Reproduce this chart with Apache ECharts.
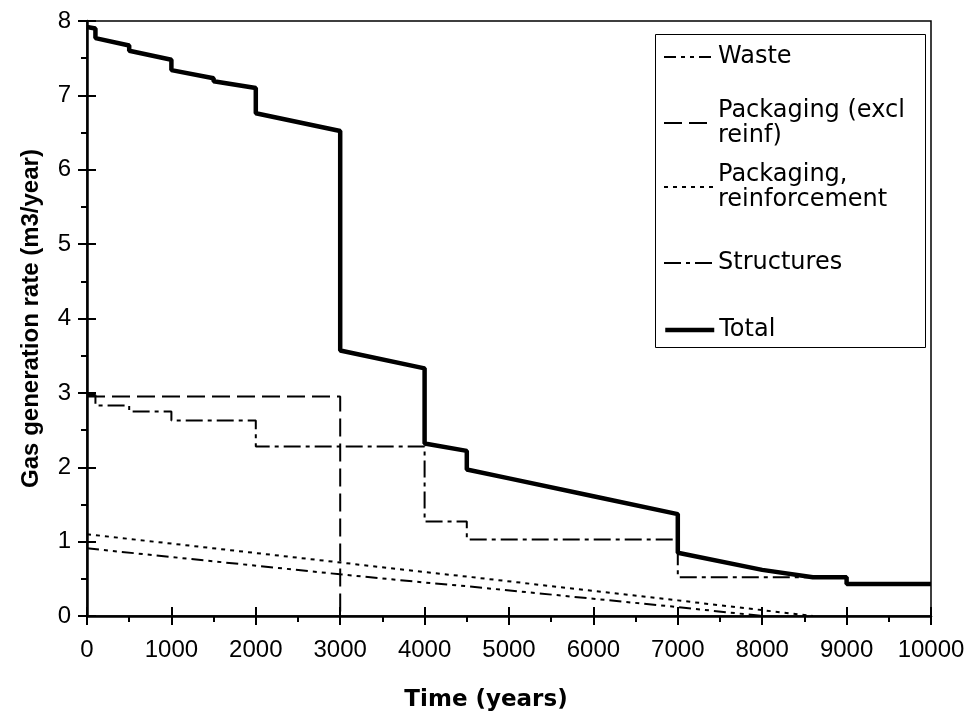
<!DOCTYPE html>
<html><head><meta charset="utf-8">
<script src="https://cdn.jsdelivr.net/npm/echarts@6/dist/echarts.min.js"></script>
<style>html,body{margin:0;padding:0;background:#fff}#c{width:972px;height:717px}</style>
</head><body><div id="c"></div>
<script>
// ---- data ----
const wasteTime = [0, 3000, 4000, 4500, 7000, 8000];
const wasteRate = [0.91, 0.56, 0.45, 0.40, 0.12, 0];
const packTime = [0, 3000, 3000];
const packRate = [2.95, 2.95, 0];
const reinfTime = [0, 3000, 4000, 4500, 7000, 8600];
const reinfRate = [1.10, 0.72, 0.59, 0.53, 0.21, 0];
const structTime = [0, 100, 500, 1000, 2000, 4000, 4500, 7000, 9000, 10000];
const structRate = [2.97, 2.83, 2.75, 2.63, 2.28, 1.27, 1.03, 0.52, 0.43, 0.43];
const totalTime = [0, 100, 100, 500, 500, 1000, 1000, 1500, 1500, 2000, 2000, 3000, 3000, 4000, 4000, 4500, 4500, 5000, 6000, 7000, 7000, 8000, 8600, 9000, 9000, 10000];
const totalRate = [7.92, 7.90, 7.77, 7.67, 7.60, 7.48, 7.34, 7.23, 7.19, 7.10, 6.76, 6.52, 3.57, 3.33, 2.32, 2.22, 1.97, 1.85, 1.61, 1.37, 0.85, 0.62, 0.52, 0.52, 0.43, 0.43];
const seriesNames = ['Waste', 'Packaging (excl reinf)', 'Packaging, reinforcement', 'Structures', 'Total'];
const legendLabels = ['Waste', 'Packaging (excl\nreinf)', 'Packaging,\nreinforcement', 'Structures', 'Total'];
const xTitle = 'Time (years)';
const yTitle = 'Gas generation rate (m3/year)';

const pairs = (t, v) => t.map((x, i) => [x, v[i]]);
const FONT = 'Liberation Sans, Arial, sans-serif';
const LFONT = 'DejaVu Sans, sans-serif';
const FS = 24;
const LFS = 24;
const LH = 25;

const tickStyle = {color: '#000', width: 2};
function mainX() {
  return {type: 'value', min: 0, max: 10000, interval: 1000, position: 'bottom',
    axisLine: {show: true, onZero: false, lineStyle: {color: '#000', width: 2.5}},
    axisTick: {show: true, length: 9, lineStyle: tickStyle},
    minorTick: {show: true, splitNumber: 2, length: 6, lineStyle: tickStyle},
    splitLine: {show: false},
    axisLabel: {color: '#000', fontFamily: FONT, fontSize: FS, margin: 22, formatter: v => String(v)},
    name: xTitle, nameLocation: 'middle', nameGap: 73,
    nameTextStyle: {color: '#000', fontFamily: LFONT, fontSize: 23, fontWeight: 'bold', padding: [0, 46, 0, 0]}};
}
function mainY() {
  return {type: 'value', min: 0, max: 8, interval: 1, position: 'left',
    axisLine: {show: true, onZero: false, lineStyle: {color: '#000', width: 2.5}},
    axisTick: {show: true, length: 9, lineStyle: tickStyle},
    minorTick: {show: true, splitNumber: 2, length: 6, lineStyle: tickStyle},
    splitLine: {show: false},
    axisLabel: {color: '#000', fontFamily: FONT, fontSize: FS, margin: 16, formatter: v => String(v)},
    name: yTitle, nameLocation: 'middle', nameGap: 44,
    nameTextStyle: {color: '#000', fontFamily: FONT, fontSize: FS, fontWeight: 'bold'}};
}
const innerX = {type: 'value', min: 0, max: 10000, interval: 1000, position: 'bottom',
  axisLine: {show: false}, axisLabel: {show: false}, splitLine: {show: false},
  axisTick: {show: true, inside: true, length: 9, lineStyle: tickStyle}};
const innerY = {type: 'value', min: 0, max: 8, interval: 1, position: 'left',
  axisLine: {show: false}, axisLabel: {show: false}, splitLine: {show: false},
  axisTick: {show: true, inside: true, length: 9, lineStyle: tickStyle}};

const styles = [
  {type: [12, 5, 4, 5, 4, 5], width: 2},
  {type: [18, 7], width: 2},
  {type: [4, 5], width: 2},
  {type: [17, 5, 4, 5], width: 2},
  {type: 'solid', width: 4.5}
];
const dataSets = [pairs(wasteTime, wasteRate), pairs(packTime, packRate), pairs(reinfTime, reinfRate), pairs(structTime, structRate), pairs(totalTime, totalRate)];

const series = seriesNames.map((n, i) => ({
  name: n, type: 'line', data: dataSets[i], symbol: 'none', showSymbol: false,
  step: i === 3 ? 'end' : false, animation: false, z: i === 4 ? 5 : 3,
  lineStyle: Object.assign({color: '#000', cap: 'butt'}, styles[i]),
  itemStyle: {color: '#000'}
}));

// legend: one component per entry so each can sit where the reference has it
const legendCenters = [57, 123, 187, 263, 330];
const LEG_LEFT = 663, ITEM_W = 49;
const legends = seriesNames.map((n, i) => {
  const two = legendLabels[i].indexOf('\n') >= 0;
  return {
    data: [n], orient: 'vertical', left: LEG_LEFT,
    top: two ? legendCenters[i] - 1.5 * LH : legendCenters[i] - LH / 2,
    padding: 0, itemWidth: ITEM_W, itemHeight: 14, selectedMode: false,
    formatter: () => legendLabels[i],
    itemStyle: {color: 'rgba(0,0,0,0)', borderWidth: 0, opacity: 0},
    lineStyle: {color: '#000', width: styles[i].width, type: styles[i].type, opacity: 1},
    textStyle: {color: '#000', fontFamily: LFONT, fontSize: LFS, lineHeight: LH,
      padding: two ? [LH, 0, 0, 0] : 0}
  };
});

const chart = echarts.init(document.getElementById('c'), null, {renderer: 'canvas'});
chart.setOption({
  animation: false,
  backgroundColor: '#fff',
  grid: {left: 87, right: 41, top: 21, bottom: 100, show: true, borderColor: '#000', borderWidth: 1.5, backgroundColor: 'transparent'},
  xAxis: [mainX(), innerX],
  yAxis: [mainY(), innerY],
  legend: legends,
  graphic: [{type: 'rect', left: 655, top: 34, z: 1,
    shape: {width: 270, height: 313}, style: {fill: '#fff', stroke: '#000', lineWidth: 1}}],
  series: series
});
</script></body></html>
